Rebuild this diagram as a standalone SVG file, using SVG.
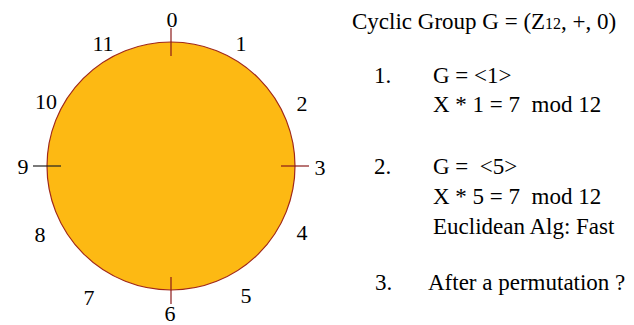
<svg xmlns="http://www.w3.org/2000/svg" width="634" height="325" viewBox="0 0 634 325">
<style>
text{font-family:"Liberation Serif","Times New Roman",serif;fill:#000}
.n{font-size:22px;text-anchor:middle}
.t{font-size:23px}
.tick{stroke:#8B1A1A;stroke-width:1.2}
</style>
<rect width="634" height="325" fill="#fff"/>
<g id="circle">
<circle cx="171" cy="166" r="124" fill="#FDB913" stroke="#A0281A" stroke-width="1.2"/>
</g>
<g id="ticks">
<line class="tick" x1="171" y1="28" x2="171" y2="56"/>
<line class="tick" x1="281" y1="166" x2="309" y2="166"/>
<line class="tick" x1="171" y1="277" x2="171" y2="304"/>
<line x1="33" y1="166" x2="61" y2="166" stroke="#222" stroke-width="1.2"/>
</g>
<g id="labels">
<text class="n" x="172" y="27">0</text>
<text class="n" x="241" y="51">1</text>
<text class="n" x="302" y="111">2</text>
<text class="n" x="320" y="175">3</text>
<text class="n" x="302" y="240">4</text>
<text class="n" x="246" y="303">5</text>
<text class="n" x="170" y="321">6</text>
<text class="n" x="89" y="305">7</text>
<text class="n" x="40" y="242">8</text>
<text class="n" x="23" y="174">9</text>
<text class="n" x="46" y="109">10</text>
<text class="n" x="103" y="51">11</text>
</g>
<g id="text">
<text class="t" x="352" y="29">Cyclic Group G = (Z<tspan font-size="16">12</tspan>, +, 0)</text>
<text class="t" x="374" y="83">1.</text>
<text class="t" x="433" y="83">G = &lt;1&gt;</text>
<text class="t" x="433" y="112" xml:space="preserve">X * 1 = 7  mod 12</text>
<text class="t" x="374" y="174">2.</text>
<text class="t" x="433" y="174" xml:space="preserve">G =  &lt;5&gt;</text>
<text class="t" x="433" y="204" xml:space="preserve">X * 5 = 7  mod 12</text>
<text class="t" x="433" y="234">Euclidean Alg: Fast</text>
<text class="t" x="375" y="290">3.</text>
<text class="t" x="428" y="290">After a permutation ?</text>
</g>
</svg>
